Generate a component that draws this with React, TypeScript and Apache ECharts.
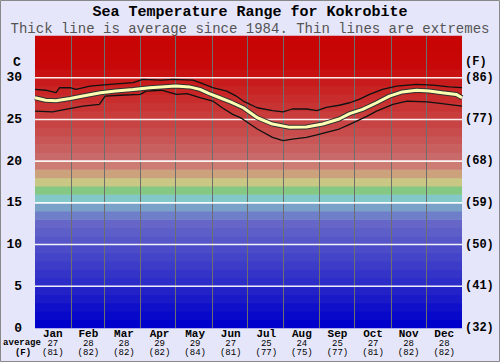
import React, { useEffect, useRef } from "react";
import * as echarts from "echarts";

const months = ["Jan", "Feb", "Mar", "Apr", "May", "Jun", "Jul", "Aug", "Sep", "Oct", "Nov", "Dec"];
const monthAvgC = [27, 28, 28, 29, 29, 27, 25, 24, 25, 27, 28, 28];
const monthAvgF = [81, 82, 82, 82, 84, 81, 77, 75, 77, 81, 82, 82];
const monthStartDays = [31, 59, 90, 120, 151, 181, 212, 243, 273, 304, 334];
const yTicksC = [0, 5, 10, 15, 20, 25, 30];
const yTicksF = ["(32)", "(41)", "(50)", "(59)", "(68)", "(77)", "(86)"];
const whiteLines = [5, 10, 15, 20, 25, 30];

const avgDays = [0, 9, 18, 30, 41, 56, 69, 84, 98, 108, 120, 132, 141, 149, 158, 167, 178, 190, 203, 218, 232, 246, 260, 269, 280, 292, 303, 314, 326, 337, 348, 360, 365];
const avgVals = [27.6, 27.3, 27.25, 27.5, 27.8, 28.2, 28.4, 28.6, 28.8, 28.9, 29.0, 28.9, 28.6, 28.1, 27.6, 27.1, 26.4, 25.2, 24.45, 24.05, 24.1, 24.45, 25.05, 25.7, 26.2, 27.0, 27.8, 28.3, 28.5, 28.4, 28.2, 28.0, 27.6];

const maxDays = [0, 9, 18, 21, 30, 35, 47, 64, 84, 92, 108, 118, 135, 141, 152, 164, 172, 178, 190, 203, 212, 220, 232, 241, 249, 260, 269, 277, 286, 297, 309, 326, 340, 354, 365];
const maxVals = [28.6, 28.5, 28.2, 28.8, 28.8, 28.6, 29.0, 29.2, 29.4, 29.8, 29.7, 29.8, 29.7, 29.4, 28.8, 28.4, 27.8, 27.2, 26.4, 26.05, 25.9, 26.25, 26.25, 26.05, 26.45, 26.7, 27.0, 27.4, 28.0, 28.6, 29.0, 29.2, 29.1, 28.9, 28.8];

const minDays = [0, 15, 26, 41, 55, 60, 73, 90, 95, 108, 121, 130, 141, 152, 160, 169, 175, 178, 190, 203, 212, 220, 232, 241, 249, 260, 269, 284, 292, 306, 318, 335, 348, 365];
const minVals = [26.0, 25.9, 26.2, 26.6, 26.8, 27.8, 27.9, 28.0, 28.4, 28.5, 28.0, 28.1, 27.6, 27.2, 26.4, 25.6, 25.25, 25.0, 23.85, 22.85, 22.45, 22.65, 22.85, 23.15, 23.45, 23.85, 24.4, 25.4, 26.0, 26.8, 27.2, 27.1, 26.9, 26.6];

// colour of each 1-degree band, from 0-1 up to 34-35
const bandColors = [
  "#0000cc", "#0808cb", "#1010ca", "#1a1ac9", "#2222c8",
  "#2c2cc8", "#3434c8", "#3c3cc8", "#4444c8", "#4c4cc8",
  "#5656c8", "#5e5ec8", "#6666c8", "#6e7ec8", "#7aa2c8",
  "#82c8c8", "#84c884", "#c8c884", "#cca27c", "#cc7c72",
  "#c86a6a", "#c86060", "#c85656", "#c84c4c", "#c84444",
  "#c83c3c", "#c83434", "#c82c2c", "#c82424", "#c81c1c",
  "#c81212", "#c80808", "#c80606", "#c80505", "#c80404",
];

const FONT = "'Liberation Mono', 'DejaVu Sans Mono', monospace";

export default function App() {
  const ref = useRef<HTMLDivElement>(null);
  useEffect(() => {
    if (!ref.current) return;
    const chart = echarts.init(ref.current, null, { renderer: "svg" });
    const bands = bandColors.map((_, i) => [i, i + 1]);
    const zip = (a: number[], b: number[]) => a.map((d, i) => [d, b[i]]);
    chart.setOption({
      animation: false,
      backgroundColor: "#e6e6fa",
      grid: { left: 35, right: 38, top: 36, bottom: 34, containLabel: false },
      xAxis: [
        { type: "value", min: 0, max: 365, show: false, splitLine: { show: false } },
        {
          type: "category",
          data: months,
          position: "bottom",
          boundaryGap: true,
          axisLine: { show: false },
          axisTick: { show: false },
          splitLine: { show: false },
          axisLabel: {
            margin: 0,
            interval: 0,
            formatter: (v: string, i: number) => `{m|${v}}\n{n|${monthAvgC[i]}}\n{n|(${monthAvgF[i]})}`,
            rich: {
              m: { fontFamily: FONT, fontSize: 11, fontWeight: "bold", color: "#000", lineHeight: 11, align: "center" },
              n: { fontFamily: FONT, fontSize: 9, color: "#000", lineHeight: 9, align: "center" },
            },
          },
        },
      ],
      yAxis: [
        {
          type: "value", min: 0, max: 35, interval: 5, position: "left",
          axisLine: { show: false }, axisTick: { show: false }, splitLine: { show: false },
          axisLabel: {
            margin: 13, fontFamily: FONT, fontSize: 13, fontWeight: "bold", color: "#000",
            formatter: (v: number) => (yTicksC.indexOf(v) >= 0 ? String(v) : ""),
          },
        },
        {
          type: "value", min: 0, max: 35, interval: 5, position: "right",
          axisLine: { show: false }, axisTick: { show: false }, splitLine: { show: false },
          axisLabel: {
            margin: 3, fontFamily: FONT, fontSize: 12, fontWeight: "bold", color: "#000",
            formatter: (v: number) => { const i = yTicksC.indexOf(v); return i >= 0 ? yTicksF[i] : ""; },
          },
        },
      ],
      graphic: [
        { type: "rect", shape: { x: 0.5, y: 0.5, width: 499, height: 361 }, style: { fill: "none", stroke: "#888", lineWidth: 1 }, silent: true },
        { type: "text", x: 250, y: 12.5, style: { text: "Sea Temperature Range for Kokrobite", font: `bold 15px ${FONT}`, fill: "#000", textAlign: "center", textVerticalAlign: "middle" } },
        { type: "text", x: 250, y: 28.5, style: { text: "Thick line is average since 1984. Thin lines are extremes", font: `14px ${FONT}`, fill: "#555", textAlign: "center", textVerticalAlign: "middle" } },
        { type: "text", x: 17, y: 62, style: { text: "C", font: `bold 13px ${FONT}`, fill: "#000", textAlign: "center", textVerticalAlign: "middle" } },
        { type: "text", x: 465, y: 62, style: { text: "(F)", font: `bold 12px ${FONT}`, fill: "#000", textAlign: "left", textVerticalAlign: "middle" } },
        { type: "text", x: 22, y: 343, style: { text: "average", font: `bold 9px ${FONT}`, fill: "#000", textAlign: "center", textVerticalAlign: "middle" } },
        { type: "text", x: 23, y: 353, style: { text: "(F)", font: `bold 9px ${FONT}`, fill: "#000", textAlign: "center", textVerticalAlign: "middle" } },
      ],
      series: [
        {
          type: "custom", xAxisIndex: 0, yAxisIndex: 0, z: 1, silent: true,
          data: bands,
          renderItem: (params: any, api: any) => {
            const cs = params.coordSys;
            const yTop = api.coord([0, api.value(1)])[1];
            const yBot = api.coord([0, api.value(0)])[1];
            return { type: "rect", shape: { x: cs.x, y: yTop - 0.3, width: cs.width, height: yBot - yTop + 0.6 }, style: { fill: bandColors[params.dataIndex] } };
          },
        },
        {
          type: "custom", xAxisIndex: 0, yAxisIndex: 0, z: 2, silent: true,
          data: monthStartDays.map((d) => [d, 0]),
          renderItem: (params: any, api: any) => {
            const cs = params.coordSys;
            const x = Math.round(api.coord([api.value(0), 0])[0]) + 0.5;
            return { type: "line", shape: { x1: x, y1: cs.y, x2: x, y2: cs.y + cs.height }, style: { stroke: "#6e6e6e", lineWidth: 1 } };
          },
        },
        {
          type: "custom", xAxisIndex: 0, yAxisIndex: 0, z: 2, silent: true,
          data: whiteLines.map((v) => [0, v]),
          renderItem: (params: any, api: any) => {
            const cs = params.coordSys;
            const y = api.coord([0, api.value(1)])[1];
            return { type: "line", shape: { x1: cs.x, y1: y, x2: cs.x + cs.width, y2: y }, style: { stroke: "#ffffff", lineWidth: 1.6, opacity: 0.92 } };
          },
        },
        {
          name: "max", type: "line", xAxisIndex: 0, yAxisIndex: 0, z: 4, symbol: "none", silent: true,
          data: zip(maxDays, maxVals), lineStyle: { color: "#111", width: 1.3 },
        },
        {
          name: "min", type: "line", xAxisIndex: 0, yAxisIndex: 0, z: 4, symbol: "none", silent: true,
          data: zip(minDays, minVals), lineStyle: { color: "#111", width: 1.3 },
        },
        {
          name: "avg-outline", type: "line", xAxisIndex: 0, yAxisIndex: 0, z: 5, symbol: "none", silent: true,
          data: zip(avgDays, avgVals), lineStyle: { color: "#333", width: 5 },
        },
        {
          name: "average", type: "line", xAxisIndex: 0, yAxisIndex: 0, z: 6, symbol: "none", silent: true,
          data: zip(avgDays, avgVals), lineStyle: { color: "#ffffb4", width: 3 },
        },
      ],
    });
    return () => chart.dispose();
  }, []);
  return <div ref={ref} style={{ position: "absolute", left: 0, top: 0, width: 500, height: 362 }} />;
}
